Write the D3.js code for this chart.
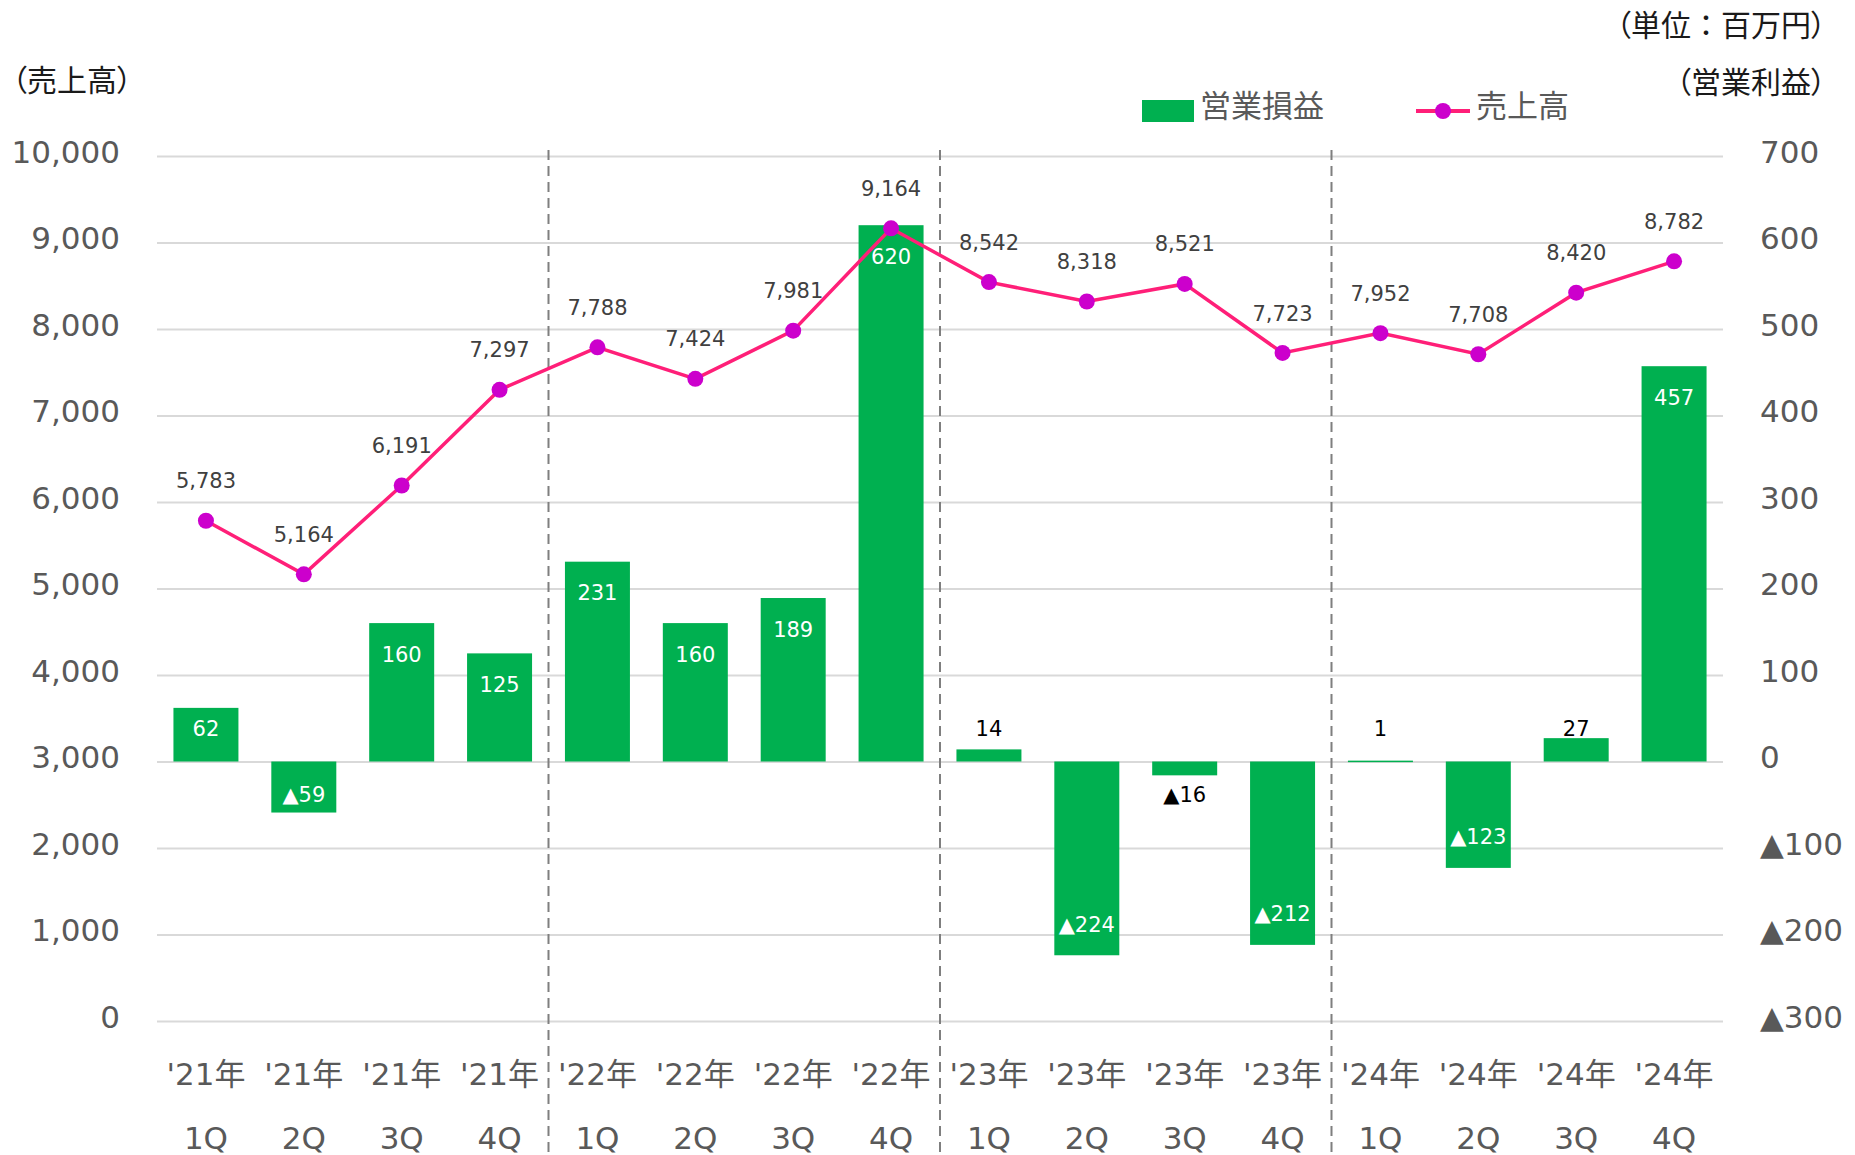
<!DOCTYPE html>
<html>
<head>
<meta charset="utf-8">
<script src="https://cdn.jsdelivr.net/npm/d3@7"></script>
<style>
  html, body { margin: 0; padding: 0; background: #fff; }
  svg { display: block; }
  .jp { font-family: "Noto Sans CJK JP", "DejaVu Sans", sans-serif; font-feature-settings: "palt"; }
  .num { font-family: "DejaVu Sans", "Noto Sans CJK JP", sans-serif; }
</style>
</head>
<body>
<svg id="chart" width="1855" height="1155"></svg>
<script>
// chart data
const years = ["'21年", "'21年", "'21年", "'21年", "'22年", "'22年", "'22年", "'22年",
               "'23年", "'23年", "'23年", "'23年", "'24年", "'24年", "'24年", "'24年"];
const quarters = ["1Q", "2Q", "3Q", "4Q", "1Q", "2Q", "3Q", "4Q",
                  "1Q", "2Q", "3Q", "4Q", "1Q", "2Q", "3Q", "4Q"];
const sales = [5783, 5164, 6191, 7297, 7788, 7424, 7981, 9164,
               8542, 8318, 8521, 7723, 7952, 7708, 8420, 8782];
const opIncome = [62, -59, 160, 125, 231, 160, 189, 620,
                  14, -224, -16, -212, 1, -123, 27, 457];
const leftTicks = [0, 1000, 2000, 3000, 4000, 5000, 6000, 7000, 8000, 9000, 10000];
const rightTicks = [-300, -200, -100, 0, 100, 200, 300, 400, 500, 600, 700];
const yearBreaks = [4, 8, 12];

const svg = d3.select("#chart");
const plot = { left: 157, right: 1723, top: 156, bottom: 1021 };

const idx = d3.range(sales.length);
const x = d3.scaleBand().domain(idx)
    .range([plot.left, plot.right])
    .paddingInner(0.336).paddingOuter(0.168);
const step = x.step();
const cx = i => x(i) + x.bandwidth() / 2;

const yL = d3.scaleLinear().domain([0, 10000]).range([plot.bottom, plot.top]);
const yR = d3.scaleLinear().domain([-300, 700]).range([plot.bottom, plot.top]);

const fmt = d3.format(",");
const signed = v => v < 0 ? "▲" + fmt(-v) : fmt(v);

// gridlines
const grid = svg.append("g")
    .attr("transform", `translate(${plot.left},0)`)
    .call(d3.axisLeft(yL).tickValues(leftTicks).tickSize(-(plot.right - plot.left)).tickFormat(""));
grid.select(".domain").remove();
grid.selectAll("line").attr("stroke", "#d9d9d9").attr("stroke-width", 2);

// left axis labels
const axL = svg.append("g")
    .attr("transform", `translate(120,0)`)
    .call(d3.axisLeft(yL).tickValues(leftTicks).tickSize(0).tickPadding(0).tickFormat(fmt));
axL.select(".domain").remove();
axL.selectAll("text")
    .attr("class", "num")
    .attr("fill", "#595959")
    .style("font-size", "31px")
    .attr("dy", "0.2em");

// right axis labels
const axR = svg.append("g")
    .attr("transform", `translate(1760,0)`)
    .call(d3.axisRight(yR).tickValues(rightTicks).tickSize(0).tickPadding(0).tickFormat(signed));
axR.select(".domain").remove();
axR.selectAll("text")
    .attr("class", "num")
    .attr("fill", "#595959")
    .style("font-size", "31px")
    .attr("dy", "0.2em");

// year separators
svg.append("g").selectAll("line")
    .data(yearBreaks)
    .enter().append("line")
    .attr("x1", d => plot.left + d * step)
    .attr("x2", d => plot.left + d * step)
    .attr("y1", 150)
    .attr("y2", 1155)
    .attr("stroke", "#7f7f7f")
    .attr("stroke-width", 2)
    .attr("stroke-dasharray", "10,6");

// bars (operating income)
const zero = yR(0);
svg.append("g").selectAll("rect")
    .data(idx)
    .enter().append("rect")
    .attr("x", i => x(i))
    .attr("width", x.bandwidth())
    .attr("y", i => Math.min(yR(opIncome[i]), zero))
    .attr("height", i => Math.max(Math.abs(yR(opIncome[i]) - zero), 1.5))
    .attr("fill", "#00b050");

// bar labels
const barLabelY = i => {
  const v = opIncome[i], end = yR(v);
  return v >= 0 ? Math.min(end + 31, zero - 33) : Math.max(end - 31, zero + 33);
};
const inside = i => Math.abs(yR(opIncome[i]) - zero) > 45;
svg.append("g").selectAll("text")
    .data(idx)
    .enter().append("text")
    .attr("class", "num")
    .attr("x", cx)
    .attr("y", barLabelY)
    .attr("dy", "0.36em")
    .attr("text-anchor", "middle")
    .attr("fill", i => inside(i) ? "#ffffff" : "#000000")
    .style("font-size", "21px")
    .text(i => signed(opIncome[i]));

// sales line
const line = d3.line().x(cx).y(i => yL(sales[i]));
svg.append("path")
    .datum(idx)
    .attr("d", line)
    .attr("fill", "none")
    .attr("stroke", "#ff1f78")
    .attr("stroke-width", 3.5);

svg.append("g").selectAll("circle")
    .data(idx)
    .enter().append("circle")
    .attr("cx", cx)
    .attr("cy", i => yL(sales[i]))
    .attr("r", 8)
    .attr("fill", "#cc00cc");

svg.append("g").selectAll("text")
    .data(idx)
    .enter().append("text")
    .attr("class", "num")
    .attr("x", cx)
    .attr("y", i => yL(sales[i]) - 40)
    .attr("dy", "0.36em")
    .attr("text-anchor", "middle")
    .attr("fill", "#404040")
    .style("font-size", "21px")
    .text(i => fmt(sales[i]));

// category labels
const cats = svg.append("g").selectAll("g")
    .data(idx)
    .enter().append("g");
cats.append("text")
    .attr("class", "num")
    .attr("x", cx)
    .attr("y", 1074)
    .attr("dy", "0.36em")
    .attr("text-anchor", "middle")
    .attr("fill", "#595959")
    .style("font-size", "31px")
    .text(i => years[i]);
cats.append("text")
    .attr("class", "num")
    .attr("x", cx)
    .attr("y", 1138)
    .attr("dy", "0.36em")
    .attr("text-anchor", "middle")
    .attr("fill", "#595959")
    .style("font-size", "31px")
    .text(i => quarters[i]);

// titles
svg.append("text").attr("class", "jp")
    .attr("x", 12).attr("y", 80).attr("dy", "0.36em")
    .attr("fill", "#1a1a1a").style("font-size", "30px")
    .text("（売上高）");
const unit = svg.append("text").attr("class", "jp")
    .attr("x", 1826).attr("y", 25).attr("dy", "0.36em")
    .attr("text-anchor", "end")
    .attr("fill", "#1a1a1a").style("font-size", "30px");
unit.append("tspan").text("（単位");
unit.append("tspan").style("font-feature-settings", "normal").text("：");
unit.append("tspan").text("百万円）");
svg.append("text").attr("class", "jp")
    .attr("x", 1826).attr("y", 82).attr("dy", "0.36em")
    .attr("text-anchor", "end")
    .attr("fill", "#1a1a1a").style("font-size", "30px")
    .text("（営業利益）");

// legend
const legend = svg.append("g");
legend.append("rect")
    .attr("x", 1142).attr("y", 100).attr("width", 52).attr("height", 22)
    .attr("fill", "#00b050");
legend.append("text").attr("class", "jp")
    .attr("x", 1200).attr("y", 106).attr("dy", "0.36em")
    .attr("fill", "#595959").style("font-size", "31px")
    .text("営業損益");
legend.append("line")
    .attr("x1", 1416).attr("x2", 1470).attr("y1", 111).attr("y2", 111)
    .attr("stroke", "#ff1f78").attr("stroke-width", 4);
legend.append("circle")
    .attr("cx", 1443).attr("cy", 111).attr("r", 8)
    .attr("fill", "#cc00cc");
legend.append("text").attr("class", "jp")
    .attr("x", 1476).attr("y", 106).attr("dy", "0.36em")
    .attr("fill", "#595959").style("font-size", "31px")
    .text("売上高");
</script>
</body>
</html>
